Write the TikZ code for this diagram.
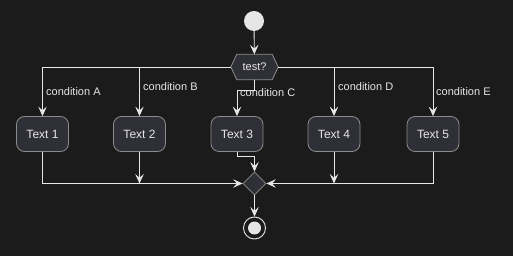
\documentclass[tikz,border=0pt]{standalone}
\usepackage{fontspec}
\setmainfont{Liberation Sans}
\usetikzlibrary{arrows.meta,shapes.geometric}
\definecolor{bg}{HTML}{1B1B1B}
\definecolor{ln}{HTML}{E6E6E6}
\definecolor{boxfill}{HTML}{2F2F37}
\definecolor{boxdraw}{HTML}{8C8C8C}
\definecolor{txt}{HTML}{E6E6E6}
\tikzset{
  arr/.style={draw=ln, line width=0.9pt, -{Stealth[length=9.5pt,width=8.5pt,inset=3.8pt]}},
  actbox/.style={draw=boxdraw, fill=boxfill, line width=0.8pt, rounded corners=8pt,
    minimum width=52pt, minimum height=35pt, inner sep=0pt, text=txt, font=\fontsize{12}{14}\selectfont},
  cond/.style={text=txt, font=\fontsize{11}{13}\selectfont, anchor=west, inner sep=0pt},
}
\begin{document}
\begin{tikzpicture}[x=1pt,y=-1pt]
\fill[bg] (0,0) rectangle (513,256);
\useasboundingbox (0,0) rectangle (513,256);
\node[circle, fill=ln, minimum size=20pt, inner sep=0pt] (start) at (254,21) {};
\node[minimum width=47pt, minimum height=25pt, inner sep=0pt] (test) at (254.5,67) {};
\filldraw[draw=boxdraw, fill=boxfill, line width=0.8pt]
  (test.west) -- ([xshift=6pt]test.north west) -- ([xshift=-6pt]test.north east)
  -- (test.east) -- ([xshift=-6pt]test.south east) -- ([xshift=6pt]test.south west) -- cycle;
\node[text=txt, font=\fontsize{11}{13}\selectfont, inner sep=0pt] (testlbl) at (test.center) {test?};
\node[actbox] (t1) at (42.5,134) {Text 1};
\node[actbox] (t2) at (139.5,134) {Text 2};
\node[actbox] (t3) at (237,134) {Text 3};
\node[actbox] (t4) at (334,134) {Text 4};
\node[actbox] (t5) at (433,134) {Text 5};
\node[diamond, aspect=1, draw=boxdraw, fill=boxfill, line width=0.8pt, minimum width=23pt,
  minimum height=23pt, inner sep=0pt] (merge) at (254.5,183.5) {};
\node[circle, draw=ln, line width=0.9pt, minimum size=22pt, inner sep=0pt] (end) at (254.5,228) {};
\node[circle, fill=ln, minimum size=13pt, inner sep=0pt] (endin) at (end.center) {};
% branches
\draw[arr] (start) -- (test);
\draw[arr] (test.west) -| (t1.north);
\draw[arr] (test.east) -| (t5.north);
\draw[arr] (t2.north |- test.west) -- (t2.north);
\draw[arr] (t4.north |- test.east) -- (t4.north);
\coordinate (cc) at ([yshift=-11pt]test.south);
\draw[arr] (test.south) -- (cc) -| (t3.north);
% labels
\node[cond] (la) at (46,92) {condition A};
\node[cond] (lb) at (143,87) {condition B};
\node[cond] (lc) at (240,93) {condition C};
\node[cond] (ld) at (338,87) {condition D};
\node[cond] (le) at (436,92) {condition E};
% merge
\draw[arr] (t1.south) |- (merge.west);
\draw[arr] (t5.south) |- (merge.east);
\draw[arr] (t2.south) -- (t2.south |- merge.west);
\draw[arr] (t4.south) -- (t4.south |- merge.east);
\coordinate (c3) at ([yshift=-5pt]t3.south);
\draw[arr] (t3.south) -- (c3) -| (merge.north);
\draw[arr] (merge.south) -- (end.north);
\end{tikzpicture}
\end{document}
